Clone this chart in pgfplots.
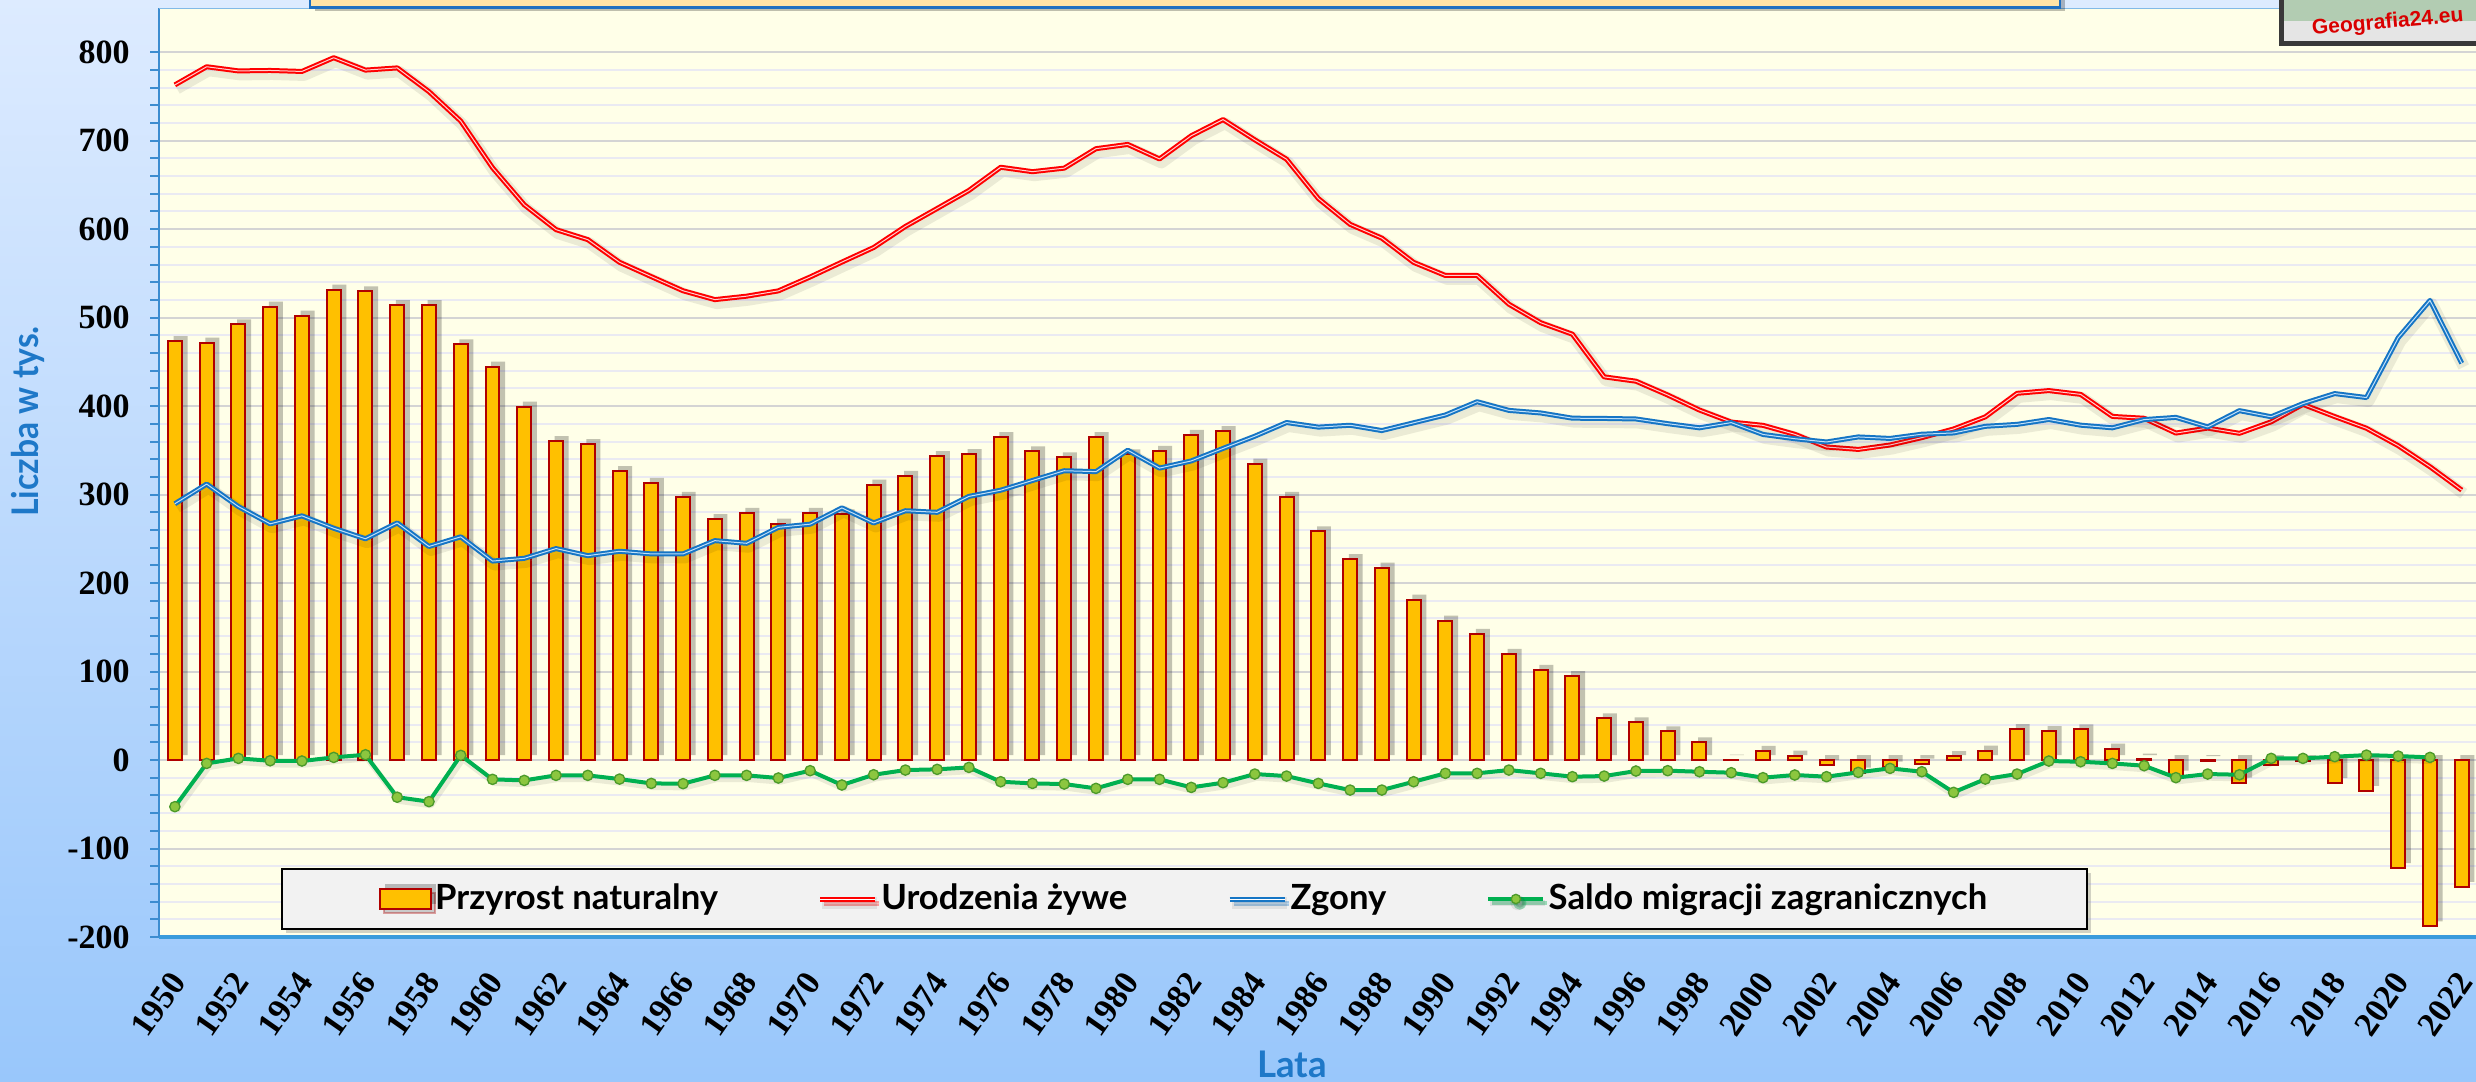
\documentclass[border=0pt]{standalone}
\usepackage{pgfplots}
\pgfplotsset{compat=1.18}
\usepackage{pgfplotstable}
\usepackage{fontspec}
\setmainfont{Liberation Serif}
\newfontfamily\legfont{Lato}
\newfontfamily\tickfont{Liberation Serif}
\newfontfamily\logofont{Liberation Sans}
\usetikzlibrary{shadows}

\definecolor{bgtop}{HTML}{DDEBFF}
\definecolor{bgbot}{HTML}{99C7FB}
\definecolor{plotbg}{HTML}{FFFFE8}
\definecolor{barfill}{HTML}{FFC000}
\definecolor{bardraw}{HTML}{B00000}
\definecolor{birth}{HTML}{FF0000}
\definecolor{birthlight}{HTML}{FFD0D0}
\definecolor{death}{HTML}{1575C5}
\definecolor{deathlight}{HTML}{C0E0F8}
\definecolor{migr}{HTML}{00B050}
\definecolor{migrmark}{HTML}{8CC63F}
\definecolor{migrmarkd}{HTML}{4C9A2A}
\definecolor{labblue}{HTML}{1E78C8}
\definecolor{axblue}{HTML}{3C8CD0}
\definecolor{botblue}{HTML}{3A9BDC}
\definecolor{gridmaj}{HTML}{D4D4D4}
\definecolor{gridmin}{HTML}{EAEAF2}
\definecolor{titlefill}{HTML}{FFE3A6}
\definecolor{titledraw}{HTML}{1F6FC0}
\definecolor{legbg}{HTML}{F2F2F2}

\pgfplotstableread{
year n b d m
1950 473.4 763.1 289.7 -52.7
1951 471.7 783.6 311.9 -3.8
1952 492.4 778.9 286.5 1.9
1953 512.4 779.4 267.0 -0.8
1954 502.3 778.3 276.0 -1.1
1955 531.8 793.8 262.0 3.0
1956 529.7 779.8 250.1 6.0
1957 514.3 782.3 268.0 -42.0
1958 514.1 755.5 241.4 -47.0
1959 469.9 722.2 252.3 5.3
1960 444.6 669.5 224.9 -21.8
1961 399.6 627.6 228.0 -23.0
1962 360.5 599.5 239.0 -17.3
1963 357.2 588.2 231.0 -17.3
1964 326.6 562.6 236.0 -21.5
1965 313.4 546.4 233.0 -26.4
1966 297.4 530.4 233.0 -26.7
1967 272.4 520.4 248.0 -17.3
1968 279.3 524.3 245.0 -17.3
1969 267.3 530.3 263.0 -20.3
1970 279.4 546.0 266.6 -12.0
1971 277.8 562.8 285.0 -28.2
1972 311.3 579.3 268.0 -16.6
1973 321.3 603.1 281.8 -11.3
1974 343.4 623.4 280.0 -10.5
1975 345.8 643.8 298.0 -8.3
1976 365.0 670.0 305.0 -24.5
1977 349.0 665.0 316.0 -26.4
1978 342.0 669.0 327.0 -27.1
1979 365.0 691.0 326.0 -32.0
1980 345.6 695.8 350.2 -21.8
1981 349.4 679.4 330.0 -21.8
1982 367.5 705.6 338.1 -30.9
1983 371.7 723.9 352.2 -25.6
1984 335.0 701.0 366.0 -15.8
1985 297.6 679.1 381.5 -18.1
1986 258.4 634.7 376.3 -26.4
1987 227.1 605.5 378.4 -33.9
1988 217.5 589.9 372.4 -33.9
1989 181.3 562.5 381.2 -24.5
1990 157.7 547.7 390.0 -15.0
1991 142.7 547.7 405.0 -15.0
1992 120.0 515.2 395.2 -11.3
1993 102.0 494.3 392.3 -15.0
1994 94.9 481.3 386.4 -18.8
1995 47.0 433.1 386.1 -18.1
1996 42.7 428.2 385.5 -12.4
1997 32.4 412.6 380.2 -12.0
1998 20.1 395.6 375.5 -13.2
1999 0.6 382.0 381.4 -14.3
2000 10.3 378.3 368.0 -19.9
2001 5.0 368.2 363.2 -16.9
2002 -5.7 353.8 359.5 -18.8
2003 -14.1 351.1 365.2 -13.9
2004 -7.4 356.1 363.5 -9.4
2005 -3.9 364.4 368.3 -13.2
2006 4.5 374.2 369.7 -36.5
2007 10.7 387.9 377.2 -21.5
2008 35.1 414.5 379.4 -15.8
2009 32.7 417.6 384.9 -1.1
2010 34.8 413.3 378.5 -1.9
2011 12.9 388.4 375.5 -3.8
2012 1.5 386.3 384.8 -6.4
2013 -17.7 369.6 387.3 -19.9
2014 -1.3 375.2 376.5 -15.8
2015 -25.6 369.3 394.9 -16.6
2016 -5.7 382.3 388.0 1.9
2017 -0.9 402.0 402.9 1.9
2018 -26.0 388.2 414.2 3.8
2019 -34.7 375.0 409.7 5.6
2020 -122.1 355.3 477.4 4.5
2021 -188.0 331.5 519.5 3.0
2022 -143.4 305.1 448.5 nan
}\data

\begin{document}
\begin{tikzpicture}
\useasboundingbox (0,0) rectangle (742.8pt,324.3pt);
\shade[top color=bgtop, bottom color=bgbot] (0,0) rectangle (742.8pt,324.3pt);

\begin{axis}[
  at={(47.7pt,43.2pt)}, anchor=south west,
  width=695.1pt, height=278.7pt, scale only axis,
  xmin=1949.5, xmax=2022.45, ymin=-200, ymax=850,
  axis background/.style={fill=plotbg},
  /pgf/number format/1000 sep={},
  /pgf/number format/assume math mode=true,
  ytick={-200,-100,...,800},
  minor y tick num=4,
  ymajorgrids, yminorgrids,
  major grid style={gridmaj, line width=0.6pt},
  minor grid style={gridmin, line width=0.6pt},
  xtick={1950,1952,...,2022},
  x tick style={draw=none},
  tick align=outside,
  major tick length=2.6pt, minor tick length=2.6pt,
  y tick style={axblue, line width=0.6pt},
  axis x line*=bottom, axis y line*=left,
  x axis line style={-, botblue, line width=1pt},
  y axis line style={-, axblue, line width=0.6pt},
  ticklabel style={font=\tickfont\bfseries\fontsize{10.2pt}{12pt}\selectfont},
  xticklabel style={xshift=1pt, yshift=-9pt, rotate=55, anchor=east, inner sep=0pt},
  yticklabel style={anchor=east, inner sep=0pt, xshift=-6pt},
  xlabel={Lata},
  ylabel={\scalebox{0.92}[1]{Liczba w tys.}},
  label style={font=\legfont\bfseries\fontsize{11pt}{13pt}\selectfont, text=labblue},
  xlabel style={at={(axis description cs:0.489,-0.1507)}, anchor=base},
  ylabel style={at={(axis description cs:-0.0565,0.555)}, anchor=center},
  legend columns=4,
  legend style={
    at={(axis description cs:0.0527,0.0409)}, anchor=west,
    fill=legbg, draw=black, line width=0.6pt,
    drop shadow={shadow xshift=1.2pt, shadow yshift=-1.2pt, opacity=0.35},
    font=\legfont\bfseries\fontsize{10.4pt}{12pt}\selectfont,
    inner xsep=29pt, inner ysep=3pt,
    nodes={inner xsep=1pt, inner ysep=1.5pt},
    /tikz/every even column/.append style={column sep=29pt},
  },
  legend cell align=left,
]

\addplot[ybar, bar width=0.44, fill=barfill, draw=bardraw, line width=0.6pt,
  preaction={fill=black, opacity=0.24, draw=none, transform canvas={xshift=1.7pt, yshift=1.5pt}},
  legend image code/.code={\draw[fill=barfill, draw=bardraw, line width=0.6pt] (0pt,-3pt) rectangle (15.3pt,3pt);}]
  table[x=year, y=n]{\data};
\addlegendentry{Przyrost naturalny}

\addplot[birth, line width=0.6pt, double=birthlight, double distance=0.3pt, line join=round,
  preaction={draw=black, opacity=0.08, line width=1.6pt, transform canvas={xshift=0.6pt, yshift=-1.1pt}},
  legend image code/.code={\draw[birth, line width=0.6pt, double=white, double distance=0.3pt] (0pt,0pt) -- (16.5pt,0pt);}]
  table[x=year, y=b]{\data};
\addlegendentry{Urodzenia żywe}

\addplot[death, line width=0.6pt, double=deathlight, double distance=0.3pt, line join=round,
  preaction={draw=black, opacity=0.08, line width=1.6pt, transform canvas={xshift=0.6pt, yshift=-1.1pt}},
  legend image code/.code={\draw[death, line width=0.6pt, double=white, double distance=0.3pt] (0pt,0pt) -- (16.5pt,0pt);}]
  table[x=year, y=d]{\data};
\addlegendentry{Zgony}

\addplot[migr, line width=1.2pt, line join=round,
  mark=*, mark size=1.55pt, mark options={fill=migrmark, draw=migrmarkd, line width=0.4pt},
  preaction={draw=black, opacity=0.08, line width=1.8pt, transform canvas={xshift=0.6pt, yshift=-1.1pt}},
  legend image code/.code={\draw[migr, line width=1.2pt] (0pt,0pt) -- (16.5pt,0pt);
    \fill[fill=migrmark, draw=migrmarkd, line width=0.4pt] (8.25pt,0pt) circle (1.4pt);}]
  table[x=year, y=m]{\data};
\addlegendentry{Saldo migracji zagranicznych\hspace{3pt}}

\draw[cyan!70!blue!50, line width=0.5pt] (rel axis cs:0,1) -- (rel axis cs:1,1);
\end{axis}

% title box (mostly above the visible area)
\fill[black, opacity=0.25] (94.5pt,321.0pt) rectangle (619.5pt,330pt);
\draw[titledraw, line width=0.7pt, fill=titlefill] (93pt,322pt) rectangle (618pt,335pt);

% logo
\begin{scope}
\clip (0,0) rectangle (742.8pt,324.3pt);
\fill[gray!45!black] (683.7pt,310.5pt) rectangle (745pt,330pt);
\fill[gray!20] (685.2pt,312pt) rectangle (745pt,330pt);
\fill[green!20!gray!50] (685.2pt,318pt) rectangle (745pt,330pt);
\node[text=red!85!black, font=\logofont\bfseries\fontsize{6.3pt}{7pt}\selectfont, rotate=5, anchor=base west, inner sep=0pt] at (693.6pt,313.8pt) {Geografia24.eu};
\end{scope}
\end{tikzpicture}
\end{document}
